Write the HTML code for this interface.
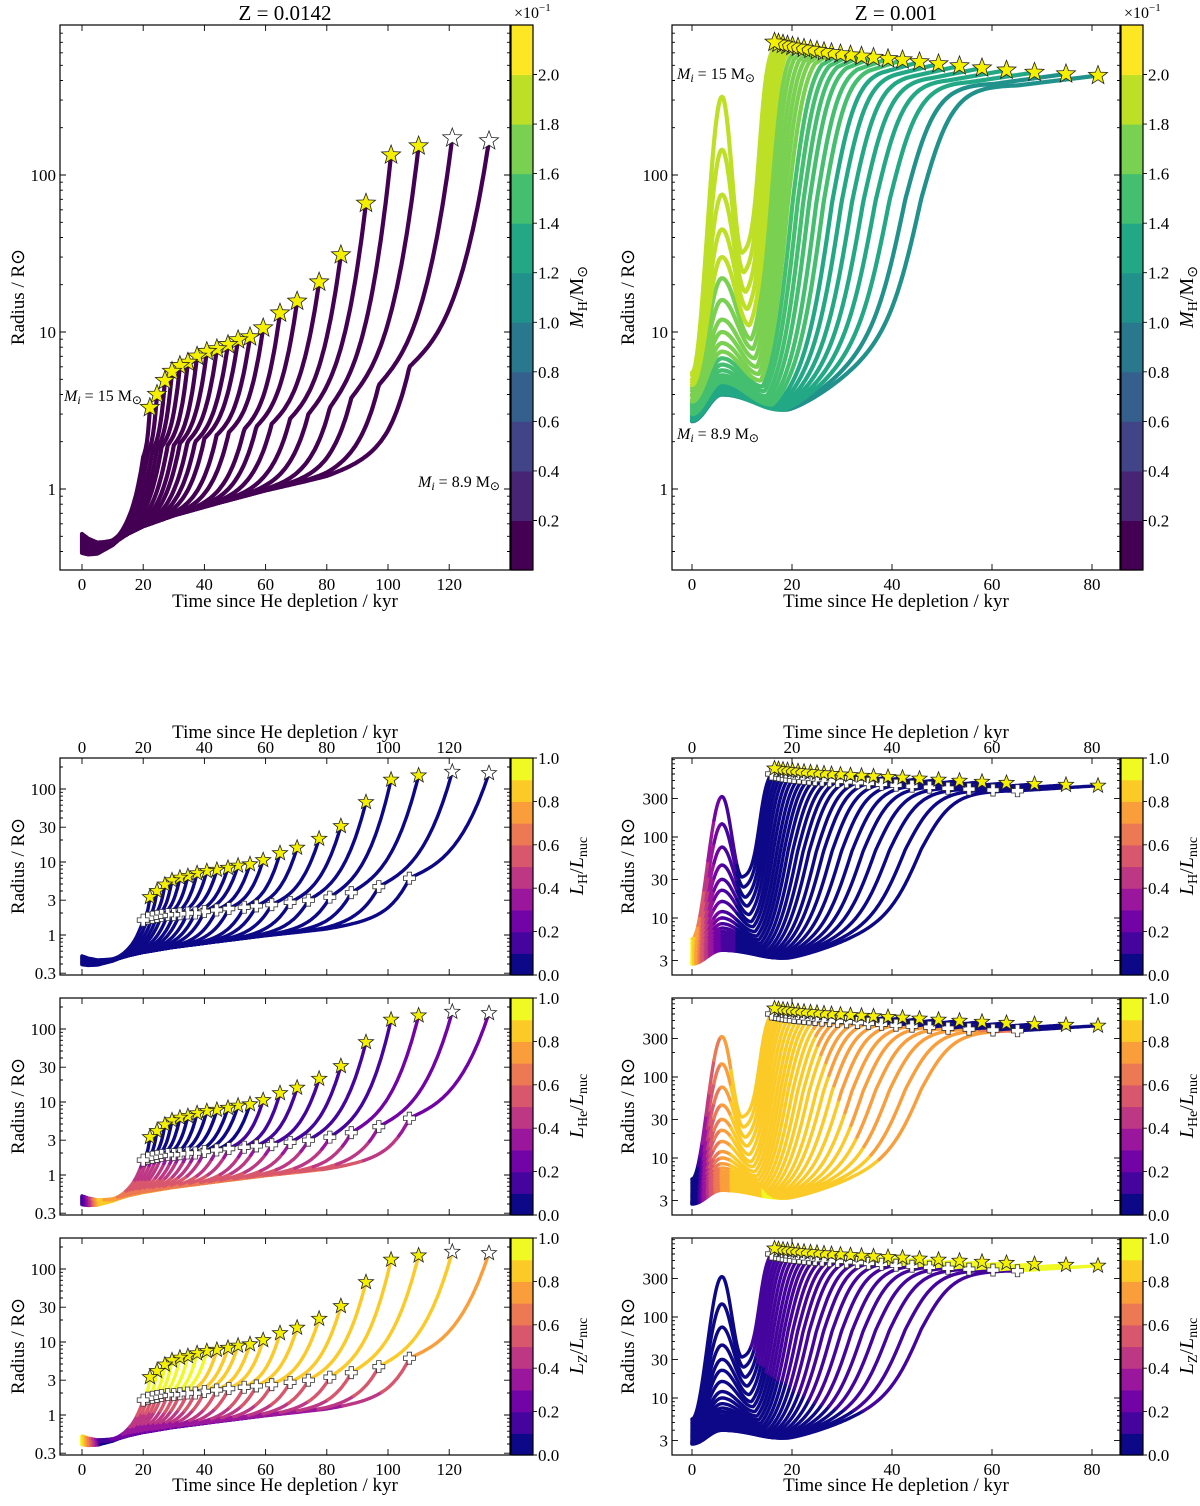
<!DOCTYPE html>
<html><head><meta charset="utf-8"><title>Radius evolution after He depletion</title>
<style>
html,body{margin:0;padding:0;background:#fff;}
svg{display:block;font-family:"Liberation Serif",serif;}
text{fill:#000;}
</style></head>
<body>
<svg id="fig" width="1200" height="1506" viewBox="0 0 1200 1506" xmlns="http://www.w3.org/2000/svg">
<defs>
<clipPath id="c-tl"><rect x="60" y="25" width="450" height="545"/></clipPath>
<clipPath id="c-tr"><rect x="672" y="25" width="448" height="545"/></clipPath>
<clipPath id="c-b0l"><rect x="60" y="758" width="450" height="217"/></clipPath>
<clipPath id="c-b1l"><rect x="60" y="998" width="450" height="217"/></clipPath>
<clipPath id="c-b2l"><rect x="60" y="1238" width="450" height="217"/></clipPath>
<clipPath id="c-b0r"><rect x="672" y="758" width="448" height="217"/></clipPath>
<clipPath id="c-b1r"><rect x="672" y="998" width="448" height="217"/></clipPath>
<clipPath id="c-b2r"><rect x="672" y="1238" width="448" height="217"/></clipPath>
</defs>
<g id="layer-marks"></g>
<g id="layer-axes"></g>
<text x="285" y="20" font-size="21" text-anchor="middle">Z = 0.0142</text>
<text x="896" y="20" font-size="21" text-anchor="middle">Z = 0.001</text>
<text x="514" y="18" font-size="16">×10<tspan font-size="11" dy="-7">−1</tspan></text>
<text x="1124" y="18" font-size="16">×10<tspan font-size="11" dy="-7">−1</tspan></text>
<text x="285" y="607" font-size="19" text-anchor="middle">Time since He depletion / kyr</text>
<text x="896" y="607" font-size="19" text-anchor="middle">Time since He depletion / kyr</text>
<text x="285" y="738" font-size="19" text-anchor="middle">Time since He depletion / kyr</text>
<text x="896" y="738" font-size="19" text-anchor="middle">Time since He depletion / kyr</text>
<text x="285" y="1491" font-size="19" text-anchor="middle">Time since He depletion / kyr</text>
<text x="896" y="1491" font-size="19" text-anchor="middle">Time since He depletion / kyr</text>
<text transform="translate(24,297) rotate(-90)" font-size="19" text-anchor="middle">Radius / R⊙</text>
<text transform="translate(634,297) rotate(-90)" font-size="19" text-anchor="middle">Radius / R⊙</text>
<text transform="translate(24,866) rotate(-90)" font-size="19" text-anchor="middle">Radius / R⊙</text>
<text transform="translate(24,1106) rotate(-90)" font-size="19" text-anchor="middle">Radius / R⊙</text>
<text transform="translate(24,1346) rotate(-90)" font-size="19" text-anchor="middle">Radius / R⊙</text>
<text transform="translate(634,866) rotate(-90)" font-size="19" text-anchor="middle">Radius / R⊙</text>
<text transform="translate(634,1106) rotate(-90)" font-size="19" text-anchor="middle">Radius / R⊙</text>
<text transform="translate(634,1346) rotate(-90)" font-size="19" text-anchor="middle">Radius / R⊙</text>
<text transform="translate(583,297) rotate(-90)" font-size="20" text-anchor="middle"><tspan font-style="italic">M</tspan><tspan font-size="14" dy="4">H</tspan><tspan dy="-4">/M</tspan><tspan font-size="14" dy="4">⊙</tspan></text>
<text transform="translate(1193,297) rotate(-90)" font-size="20" text-anchor="middle"><tspan font-style="italic">M</tspan><tspan font-size="14" dy="4">H</tspan><tspan dy="-4">/M</tspan><tspan font-size="14" dy="4">⊙</tspan></text>
<text transform="translate(583,866) rotate(-90)" font-size="20" text-anchor="middle"><tspan font-style="italic">L</tspan><tspan font-size="14" dy="4">H</tspan><tspan dy="-4">/</tspan><tspan font-style="italic">L</tspan><tspan font-size="14" dy="4">nuc</tspan></text>
<text transform="translate(583,1106) rotate(-90)" font-size="20" text-anchor="middle"><tspan font-style="italic">L</tspan><tspan font-size="14" dy="4">He</tspan><tspan dy="-4">/</tspan><tspan font-style="italic">L</tspan><tspan font-size="14" dy="4">nuc</tspan></text>
<text transform="translate(583,1346) rotate(-90)" font-size="20" text-anchor="middle"><tspan font-style="italic">L</tspan><tspan font-size="14" dy="4">Z</tspan><tspan dy="-4">/</tspan><tspan font-style="italic">L</tspan><tspan font-size="14" dy="4">nuc</tspan></text>
<text transform="translate(1193,866) rotate(-90)" font-size="20" text-anchor="middle"><tspan font-style="italic">L</tspan><tspan font-size="14" dy="4">H</tspan><tspan dy="-4">/</tspan><tspan font-style="italic">L</tspan><tspan font-size="14" dy="4">nuc</tspan></text>
<text transform="translate(1193,1106) rotate(-90)" font-size="20" text-anchor="middle"><tspan font-style="italic">L</tspan><tspan font-size="14" dy="4">He</tspan><tspan dy="-4">/</tspan><tspan font-style="italic">L</tspan><tspan font-size="14" dy="4">nuc</tspan></text>
<text transform="translate(1193,1346) rotate(-90)" font-size="20" text-anchor="middle"><tspan font-style="italic">L</tspan><tspan font-size="14" dy="4">Z</tspan><tspan dy="-4">/</tspan><tspan font-style="italic">L</tspan><tspan font-size="14" dy="4">nuc</tspan></text>
<text x="64" y="401" font-size="16"><tspan font-style="italic">M</tspan><tspan font-size="12" dy="3" font-style="italic">i</tspan><tspan dy="-3"> = 15 M</tspan><tspan font-size="12" dy="3">⊙</tspan></text>
<text x="418" y="487" font-size="16"><tspan font-style="italic">M</tspan><tspan font-size="12" dy="3" font-style="italic">i</tspan><tspan dy="-3"> = 8.9 M</tspan><tspan font-size="12" dy="3">⊙</tspan></text>
<text x="677" y="79" font-size="16"><tspan font-style="italic">M</tspan><tspan font-size="12" dy="3" font-style="italic">i</tspan><tspan dy="-3"> = 15 M</tspan><tspan font-size="12" dy="3">⊙</tspan></text>
<text x="677" y="439" font-size="16"><tspan font-style="italic">M</tspan><tspan font-size="12" dy="3" font-style="italic">i</tspan><tspan dy="-3"> = 8.9 M</tspan><tspan font-size="12" dy="3">⊙</tspan></text>
</svg>
<script>
// ---------- DATA: Z = 0.0142 (left), tracks ordered 15 Msun -> 8.9 Msun ----------
const leftEndT = [22.2,24.5,27.1,29.4,32.0,34.6,37.6,40.8,44.1,47.7,51.0,54.9,59.2,64.7,70.3,77.5,84.6,92.8,101,110,121,133];
const leftEndR = [3.3,4.0,4.9,5.6,6.1,6.4,7.0,7.5,7.8,8.3,8.9,9.3,10.6,13.2,15.7,20.8,31,66,134,153,172,165];
const leftCrossT = [20,21.5,23,24.5,26,28,30,32,34.5,37,40,44,48,53,57,62,68,74,81,88,97,107];
const leftCrossR = [1.6,1.7,1.75,1.8,1.85,1.9,1.9,1.95,2,2,2.1,2.2,2.3,2.4,2.5,2.6,2.8,3,3.3,3.8,4.6,6];
const leftStarWhite = [0,0,0,0,0,0,0,0,0,0,0,0,0,0,0,0,0,0,0,0,1,1];
const leftBaseT = [0,2,5,10,15,20,30,45,60,80,100,120,140];
const leftBaseR = [0.45,0.43,0.42,0.45,0.52,0.58,0.68,0.82,0.98,1.2,1.6,2.4,3.5];
// ---------- DATA: Z = 0.001 (right) ----------
const rightEndT = [16.5,17.3,18.2,19.1,20.1,21.2,22.4,23.7,25.0,26.4,27.9,29.7,31.7,33.9,36.3,39.2,42.1,45.5,49.3,53.5,58.0,62.9,68.5,74.8,81.2];
const rightEndR = [700,690,680,670,660,650,640,630,620,610,600,590,580,570,560,550,540,525,510,495,480,465,450,440,430];
const rightCrossT = [15.9,16.5,17.2,17.9,18.6,19.5,20.4,21.4,22.4,23.4,24.6,26.0,27.5,29.1,30.9,33.1,35.3,37.9,40.8,44.0,47.5,51.2,55.4,60.2,65.1];
const rightCrossR = [600,590,580,570,560,552,544,536,528,520,512,504,496,488,480,470,460,448,436,424,412,400,390,380,372];
const rightStartR = [5.5,5.3,5.0,4.8,4.6,4.4,4.2,4.0,3.9,3.7,3.6,3.5,3.4,3.3,3.2,3.1,3.0,2.95,2.9,2.85,2.8,2.78,2.75,2.72,2.7];
const rightPeakR = [315,145,75,45,30,22,16,12,10,8.5,7.5,6.8,6.2,5.7,5.3,5.0,4.8,4.6,4.4,4.3,4.2,4.1,4.05,4.0,4.0];
const rightTroughR = [32,24,18,14,11,9,7.8,6.8,6.0,5.4,4.9,4.5,4.2,3.9,3.7,3.55,3.45,3.35,3.3,3.25,3.22,3.2,3.2,3.2,3.2];
const mhTicks = [0.2,0.4,0.6,0.8,1.0,1.2,1.4,1.6,1.8,2.0];
const lTicks = [0.0,0.2,0.4,0.6,0.8,1.0];
const xTicksLeft = [0,20,40,60,80,100,120];
const xTicksRight = [0,20,40,60,80];
const yTicksTop = [1,10,100];
const yTicksBotLeft = [0.3,1,3,10,30,100];
const yTicksBotRight = [3,10,30,100,300];

const NS = 'http://www.w3.org/2000/svg';
const marks = document.getElementById('layer-marks');
const axesL = document.getElementById('layer-axes');
function el(tag, parent){ const e = document.createElementNS(NS, tag); parent.appendChild(e); return e; }

const VIR = ['#440154','#482475','#414487','#355f8d','#2a788e','#21918c','#22a884','#44bf70','#7ad151','#bddf26','#fde725'];
const PLA = ['#0d0887','#41049d','#6a00a8','#8f0da4','#b12a90','#cc4778','#e16462','#f2844b','#fca636','#fcce25','#f0f921'];
function hex2(c){return [parseInt(c.slice(1,3),16),parseInt(c.slice(3,5),16),parseInt(c.slice(5,7),16)];}
function cmap(tab, v){ v=Math.max(0,Math.min(1,v)); const p=v*(tab.length-1); const i=Math.min(tab.length-2,Math.floor(p)); const fr=p-i;
  const a=hex2(tab[i]), b=hex2(tab[i+1]); return 'rgb('+a.map((x,k)=>Math.round(x+(b[k]-x)*fr)).join(',')+')'; }
function bandColorL(v){ const k=Math.max(0,Math.min(9,Math.floor(v*10))); return cmap(PLA,k/9); }
function bandColorMH(v){ const k=Math.max(0,Math.min(10,Math.floor(v/0.2))); return cmap(VIR,k/10); }

const lg = Math.log10;
function interpLog(ts, rs, t){
  if(t<=ts[0]) return lg(rs[0]);
  for(let i=1;i<ts.length;i++){ if(t<=ts[i]){ const u=(t-ts[i-1])/(ts[i]-ts[i-1]); return lg(rs[i-1])+(lg(rs[i])-lg(rs[i-1]))*u; } }
  return lg(rs[rs.length-1]);
}
function cosI(a,b,u){ return a+(b-a)*(1-Math.cos(Math.PI*u))/2; }

function leftLogR(i,t){
  const n=leftEndT.length, f=1-i/(n-1);
  const tc=leftCrossT[i], te=leftEndT[i], lc=lg(leftCrossR[i]), le=lg(leftEndR[i]);
  const spread=(f-0.5)*0.12*Math.max(0,1-t/12);
  if(t<=tc){ const q=3+tc/8; return spread+interpLog(leftBaseT,leftBaseR,t)+(lc-interpLog(leftBaseT,leftBaseR,tc))*Math.pow(t/tc,q); }
  const u=(t-tc)/(te-tc); return lc+(le-lc)*(0.35*u+0.65*Math.pow(u,3));
}
function rightLogR(i,t){
  const n=rightEndT.length, f=1-i/(n-1);
  const l0=lg(rightStartR[i]), lp=lg(rightPeakR[i]), ltr=lg(rightTroughR[i]);
  const ttr=10+(1-f)*9, tc=rightCrossT[i], te=rightEndT[i], lc=lg(rightCrossR[i]), le=lg(rightEndR[i]);
  const tm=13.5+(te-16.5)*0.5, w=0.8+(1-f)*2.4;
  if(t<=6) return cosI(l0,lp,t/6);
  if(t<=ttr) return cosI(lp,ltr,(t-6)/(ttr-6));
  if(t<=tc){ const L=x=>1/(1+Math.exp(-(x-tm)/w)); const sl=(L(t)-L(ttr))/(L(tc)-L(ttr));
    const al=0.3*(1-f), lin=(t-ttr)/(tm-ttr);
    const s=(1-al)*sl+al*(lin<1?Math.pow(lin,1.3):1);
    return ltr+(lc-ltr)*Math.min(1,s); }
  return lc+(le-lc)*(t-tc)/(te-tc);
}

function leftVal(kind,i,t){
  const n=leftEndT.length, f=1-i/(n-1), tc=leftCrossT[i];
  if(kind==='H') return 0.03;
  let z;
  if(t<=tc){ z = t<6 ? 0.95-0.12*t : 0.08+0.5*Math.pow(t/tc,2); }
  else z = 0.95-0.15*(1-f);
  if(kind==='Z') return z;
  if(t<=tc){ return t<6 ? 0.05+0.14*t : 0.95-z; }
  return 0.03+0.22*Math.pow(1-f,2);
}
function rightVal(kind,i,t){
  const n=rightEndT.length, f=1-i/(n-1), tc=rightCrossT[i], ttr=10+(1-f)*9;
  const h = t<=tc ? 0.03+0.95*Math.exp(-t/3.5) : 0.03;
  if(kind==='H') return h;
  let he;
  if(t>tc) he=0.03;
  else if(t<1) he=0.03;
  else if(t<=ttr) he=0.05+0.87*(1-Math.exp(-(t-1)/3.5));
  else he=0.88-0.2*(1-f)*Math.min(1,(t-ttr)/(tc-ttr));
  if(kind==='He') return he;
  if(t>tc) return 0.93;
  if(t<=ttr) return 0.03;
  return 0.05+0.15*Math.min(1,(t-ttr)/(tc-ttr));
}

function starPath(cx,cy,r){ let d=''; for(let k=0;k<10;k++){ const rr=k%2?r*0.42:r; const a=-Math.PI/2+k*Math.PI/5; d+=(k?'L':'M')+(cx+rr*Math.cos(a)).toFixed(1)+','+(cy+rr*Math.sin(a)).toFixed(1);} return d+'Z'; }
function plusPath(cx,cy,L,W){ return 'M'+(cx-W)+','+(cy-L)+'h'+2*W+'v'+(L-W)+'h'+(L-W)+'v'+2*W+'h'+(-(L-W))+'v'+(L-W)+'h'+(-2*W)+'v'+(-(L-W))+'h'+(-(L-W))+'v'+(-2*W)+'h'+(L-W)+'Z'; }

const panels = [
 {key:'tl', side:'L', x0:60,x1:510,y0:25,y1:570, xs:t=>82+t*3.06, ys:l=>489-157*l, kind:'MH', lw:4.2, star:10, cross:false, clip:'c-tl'},
 {key:'tr', side:'R', x0:672,x1:1120,y0:25,y1:570, xs:t=>692+t*5, ys:l=>489-157*l, kind:'MH', lw:4.2, star:10, cross:false, clip:'c-tr'},
];
['H','He','Z'].forEach((k,r)=>{
  panels.push({key:'b'+r+'l', side:'L', row:r, x0:60,x1:510,y0:758+240*r,y1:975+240*r, xs:t=>82+t*3.06, ys:l=>935+240*r-73*l, kind:k, lw:3.4, star:8, cross:true, clip:'c-b'+r+'l'});
  panels.push({key:'b'+r+'r', side:'R', row:r, x0:672,x1:1120,y0:758+240*r,y1:975+240*r, xs:t=>692+t*5, ys:l=>918+240*r-81*(l-1), kind:k, lw:3.4, star:8, cross:true, clip:'c-b'+r+'r'});
});

panels.forEach(P=>{
  const g=el('g',marks);
  
  
  g.setAttribute('clip-path','url(#'+P.clip+')');
  const isL=P.side==='L';
  const n=isL?leftEndT.length:rightEndT.length;
  for(let i=n-1;i>=0;i--){
    const te=isL?leftEndT[i]:rightEndT[i];
    const step=isL?0.4:0.2;
    const f=1-i/(n-1);
    let pts=[];
    for(let t=0;t<=te+1e-9;t+=step){ pts.push(t); }
    if(pts[pts.length-1]<te) pts.push(te);
    const logR=t=>isL?leftLogR(i,t):rightLogR(i,t);
    const colOf=t=>{
      if(P.kind==='MH') return isL? '#440154' : bandColorMH(1.15+0.8*f);
      return bandColorL(isL?leftVal(P.kind,i,t):rightVal(P.kind,i,t));
    };
    let cur=null, d='';
    const flush=()=>{ if(d){ const p=el('path',g);
      
      
      p.setAttribute('d',d); p.setAttribute('fill','none'); p.setAttribute('stroke',cur); p.setAttribute('stroke-width',P.lw); p.setAttribute('stroke-linejoin','round'); p.setAttribute('stroke-linecap','round'); } };
    let prev=null;
    pts.forEach(t=>{
      const x=P.xs(t).toFixed(1), y=P.ys(logR(t)).toFixed(1), c=colOf(t);
      if(c!==cur){ flush(); cur=c; d=prev?('M'+prev+'L'+x+','+y):('M'+x+','+y); }
      else d+='L'+x+','+y;
      prev=x+','+y;
    });
    flush();
  }
  if(P.cross){
    for(let i=n-1;i>=0;i--){
      const tc=isL?leftCrossT[i]:rightCrossT[i], rc=isL?leftCrossR[i]:rightCrossR[i];
      const p=el('path',g);
      
      
      p.setAttribute('d',plusPath(P.xs(tc),P.ys(lg(rc)),6,2.2)); p.setAttribute('fill','#fff'); p.setAttribute('stroke','#333'); p.setAttribute('stroke-width','0.8');
    }
  }
  for(let i=n-1;i>=0;i--){
    const te=isL?leftEndT[i]:rightEndT[i], re=isL?leftEndR[i]:rightEndR[i];
    const white=isL&&leftStarWhite[i];
    const p=el('path',g);
    
    
    p.setAttribute('d',starPath(P.xs(te),P.ys(lg(re)),P.star)); p.setAttribute('fill',white?'#fff':'#f5f000'); p.setAttribute('stroke','#222'); p.setAttribute('stroke-width','0.8');
  }

  const a=el('g',axesL);
  
  
  const frame=el('rect',a);
  
  
  frame.setAttribute('x',P.x0); frame.setAttribute('y',P.y0); frame.setAttribute('width',P.x1-P.x0); frame.setAttribute('height',P.y1-P.y0);
  frame.setAttribute('fill','none'); frame.setAttribute('stroke','#000'); frame.setAttribute('stroke-width','1.2');
  let td='';
  const xt=isL?xTicksLeft:xTicksRight;
  const showBottom = P.row===undefined || P.row===2;
  const showTop = P.row===0;
  xt.forEach(v=>{
    const x=P.xs(v).toFixed(1);
    td+='M'+x+','+P.y1+'v-6M'+x+','+P.y0+'v6';
    if(showBottom){ const tx=el('text',a);
      
      
      tx.setAttribute('x',x); tx.setAttribute('y',P.y1+20); tx.setAttribute('font-size','17'); tx.setAttribute('text-anchor','middle'); tx.textContent=v; }
    if(showTop){ const tx=el('text',a);
      
      
      tx.setAttribute('x',x); tx.setAttribute('y',P.y0-5); tx.setAttribute('font-size','17'); tx.setAttribute('text-anchor','middle'); tx.textContent=v; }
  });
  for(let dec=-1;dec<=3;dec++){
    for(let m=1;m<10;m++){
      const val=m*Math.pow(10,dec), y=P.ys(lg(val));
      if(y<P.y0+0.5||y>P.y1-0.5) continue;
      const L=m===1?6:3;
      td+='M'+P.x0+','+y.toFixed(1)+'h'+L+'M'+P.x1+','+y.toFixed(1)+'h-'+L;
    }
  }
  const yt = P.kind==='MH'?yTicksTop:(isL?yTicksBotLeft:yTicksBotRight);
  yt.forEach(v=>{
    const y=P.ys(lg(v));
    td+='M'+P.x0+','+y.toFixed(1)+'h6M'+P.x1+','+y.toFixed(1)+'h-6';
    const tx=el('text',a);
    
    
    tx.setAttribute('x',P.x0-4); tx.setAttribute('y',(y+6).toFixed(1)); tx.setAttribute('font-size','17'); tx.setAttribute('text-anchor','end'); tx.textContent=v;
  });
  const tp=el('path',a);
  
  
  tp.setAttribute('d',td); tp.setAttribute('stroke','#000'); tp.setAttribute('stroke-width','0.9'); tp.setAttribute('fill','none');

  const cb=el('g',axesL);
  
  
  const cx0=P.x1+1, cw=22, H=P.y1-P.y0;
  const nb = P.kind==='MH'?11:10;
  for(let k=0;k<nb;k++){
    const r=el('rect',cb);
    
    
    const y1=P.y1-H*k/nb, y2=P.y1-H*(k+1)/nb;
    r.setAttribute('x',cx0); r.setAttribute('y',y2.toFixed(1)); r.setAttribute('width',cw); r.setAttribute('height',(y1-y2+0.6).toFixed(1));
    r.setAttribute('fill', P.kind==='MH'?cmap(VIR,k/10):cmap(PLA,k/9));
  }
  const cf=el('rect',cb);
  
  
  cf.setAttribute('x',cx0); cf.setAttribute('y',P.y0); cf.setAttribute('width',cw); cf.setAttribute('height',H); cf.setAttribute('fill','none'); cf.setAttribute('stroke','#000'); cf.setAttribute('stroke-width','1.2');
  const cts = P.kind==='MH'?mhTicks:lTicks;
  let cd='';
  cts.forEach(v=>{
    const y = P.kind==='MH' ? P.y1-H*v/2.2 : P.y1-H*v;
    cd+='M'+(cx0+cw)+','+y.toFixed(1)+'h4';
    const tx=el('text',cb);
    
    
    tx.setAttribute('x',cx0+cw+5); tx.setAttribute('y',(y+6).toFixed(1)); tx.setAttribute('font-size','17'); tx.textContent=v.toFixed(1);
  });
  const ctp=el('path',cb);
  
  
  ctp.setAttribute('d',cd); ctp.setAttribute('stroke','#000'); ctp.setAttribute('stroke-width','0.9');
});
</script>
</body></html>
